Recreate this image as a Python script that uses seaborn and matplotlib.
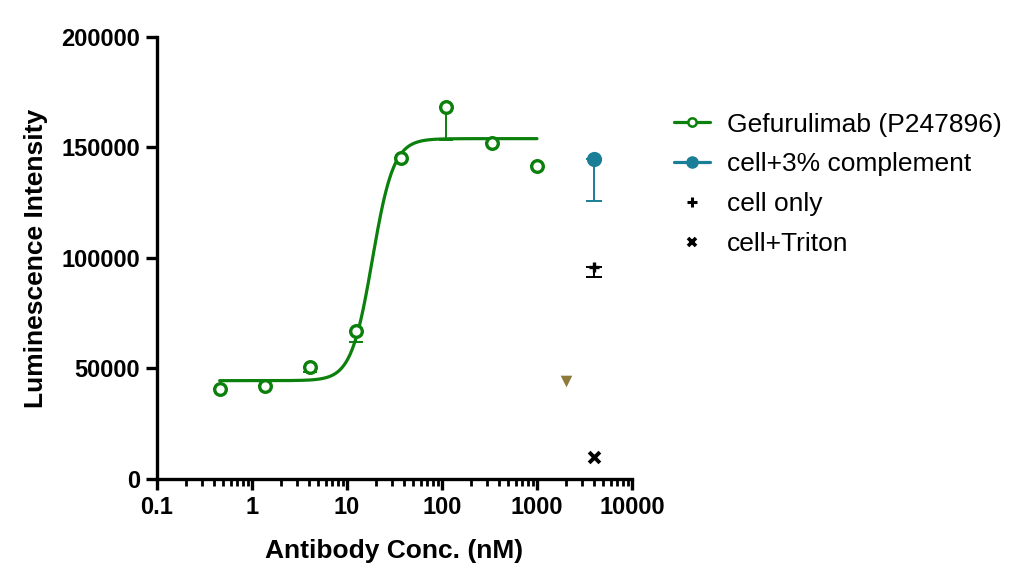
import numpy as np
import pandas as pd
import matplotlib
matplotlib.use("Agg")
import matplotlib.pyplot as plt
from matplotlib.lines import Line2D
from matplotlib.ticker import LogLocator, NullFormatter
import seaborn as sns

# ---- data ----
conc = [0.457, 1.372, 4.115, 12.35, 37.04, 111.1, 333.3, 1000.0]
lum = [40700, 42100, 50700, 67000, 145300, 168300, 152000, 141600]
lum_err_low = [0, 0, 2500, 4900, 0, 14900, 0, 0]

# 4PL fit parameters
fit_bottom = 44500
fit_top = 154000
fit_ec50 = 18.5
fit_hill = 3.9

complement_conc = [4000.0]
complement_lum = [144800]
complement_err = [19000]

cellonly_conc = [4000.0]
cellonly_lum = [96000]
cellonly_err = [4500]

triton_conc = [4000.0]
triton_lum = [10100]

extra_conc = [2000.0]
extra_lum = [44300]

x_ticks = [0.1, 1, 10, 100, 1000, 10000]
x_ticklabels = ["0.1", "1", "10", "100", "1000", "10000"]
y_ticks = [0, 50000, 100000, 150000, 200000]
y_ticklabels = ["0", "50000", "100000", "150000", "200000"]
legend_labels = ["Gefurulimab (P247896)", "cell+3% complement", "cell only", "cell+Triton"]

green = "#0C800C"
teal = "#1A7E96"
olive = "#8C7B3A"

sns.set_theme(style="ticks")
plt.rcParams["font.family"] = ["Liberation Sans", "DejaVu Sans"]
plt.rcParams["text.color"] = "black"
plt.rcParams["axes.labelcolor"] = "black"
plt.rcParams["xtick.color"] = "black"
plt.rcParams["ytick.color"] = "black"

fig = plt.figure(figsize=(10.18, 5.86), dpi=100)
ax = fig.add_axes([0.1542, 0.1826, 0.4666, 0.7543])

# fitted curve
xs = np.logspace(np.log10(conc[0]), np.log10(conc[-1]), 300)
ys = fit_bottom + (fit_top - fit_bottom) / (1 + (fit_ec50 / xs) ** fit_hill)
curve = pd.DataFrame({"x": xs, "y": ys})
sns.lineplot(data=curve, x="x", y="y", ax=ax, color=green, lw=2.3, zorder=3)

# error bars (lower only)
ax.errorbar(conc, lum, yerr=[lum_err_low, [0] * len(lum)], fmt="none",
            ecolor=green, elinewidth=1.4, capsize=5, capthick=1.4, zorder=2)
ax.errorbar(complement_conc, complement_lum, yerr=[complement_err, [0]],
            fmt="none", ecolor=teal, elinewidth=1.4, capsize=6, capthick=1.4, zorder=2)
ax.errorbar(cellonly_conc, cellonly_lum, yerr=[cellonly_err, [0]],
            fmt="none", ecolor="black", elinewidth=1.4, capsize=6, capthick=1.4, zorder=2)

pts = pd.DataFrame({"x": conc, "y": lum})
sns.scatterplot(data=pts, x="x", y="y", ax=ax, marker="o", s=70,
                facecolor="white", edgecolor=green, linewidth=2.4, zorder=4)
sns.scatterplot(x=complement_conc, y=complement_lum, ax=ax, marker="o", s=120,
                color=teal, edgecolor=teal, linewidth=0, zorder=4)
sns.scatterplot(x=cellonly_conc, y=cellonly_lum, ax=ax, marker="+", s=60,
                color="black", linewidth=2.4, zorder=4)
sns.scatterplot(x=triton_conc, y=triton_lum, ax=ax, marker="x", s=60,
                color="black", linewidth=2.8, zorder=4)
sns.scatterplot(x=extra_conc, y=extra_lum, ax=ax, marker="v", s=70,
                color=olive, edgecolor=olive, linewidth=0, zorder=4)

ax.set_xscale("log")
ax.set_xlim(0.1, 10000)
ax.set_ylim(0, 200000)
ax.set_xticks(x_ticks)
ax.set_xticklabels(x_ticklabels)
ax.xaxis.set_minor_locator(LogLocator(base=10, subs=np.arange(2, 10)))
ax.xaxis.set_minor_formatter(NullFormatter())
ax.set_yticks(y_ticks)
ax.set_yticklabels(y_ticklabels)

for s in ["top", "right"]:
    ax.spines[s].set_visible(False)
for s in ["left", "bottom"]:
    ax.spines[s].set_linewidth(2.4)
    ax.spines[s].set_color("black")

ax.tick_params(axis="both", which="major", direction="out", length=8, width=2.4,
               color="black", labelcolor="black", labelsize=17, pad=4)
ax.tick_params(axis="x", which="minor", direction="out", length=5, width=2.0, color="black")
for lab in ax.get_xticklabels() + ax.get_yticklabels():
    lab.set_fontweight("bold")

ax.set_xlabel("Antibody Conc. (nM)", fontsize=19, fontweight="bold", labelpad=15, color="black")
ax.set_ylabel("Luminescence Intensity", fontsize=19, fontweight="bold", labelpad=10, color="black")
ax.grid(False)

handles = [
    Line2D([0], [0], color=green, lw=2.3, marker="o", markersize=6,
           markerfacecolor="white", markeredgecolor=green, markeredgewidth=1.8),
    Line2D([0], [0], color=teal, lw=2.3, marker="o", markersize=8,
           markerfacecolor=teal, markeredgecolor=teal),
    Line2D([0], [0], color="none", marker="+", markersize=7,
           markeredgecolor="black", markeredgewidth=2.2),
    Line2D([0], [0], color="none", marker="x", markersize=6,
           markeredgecolor="black", markeredgewidth=2.6),
]
leg = ax.legend(handles, legend_labels, loc="upper left", bbox_to_anchor=(1.066, 0.853),
                frameon=False, fontsize=19, handlelength=1.35, handletextpad=0.65,
                labelspacing=0.6, borderaxespad=0)
for t in leg.get_texts():
    t.set_color("black")

fig.savefig("out.png", dpi=100)
